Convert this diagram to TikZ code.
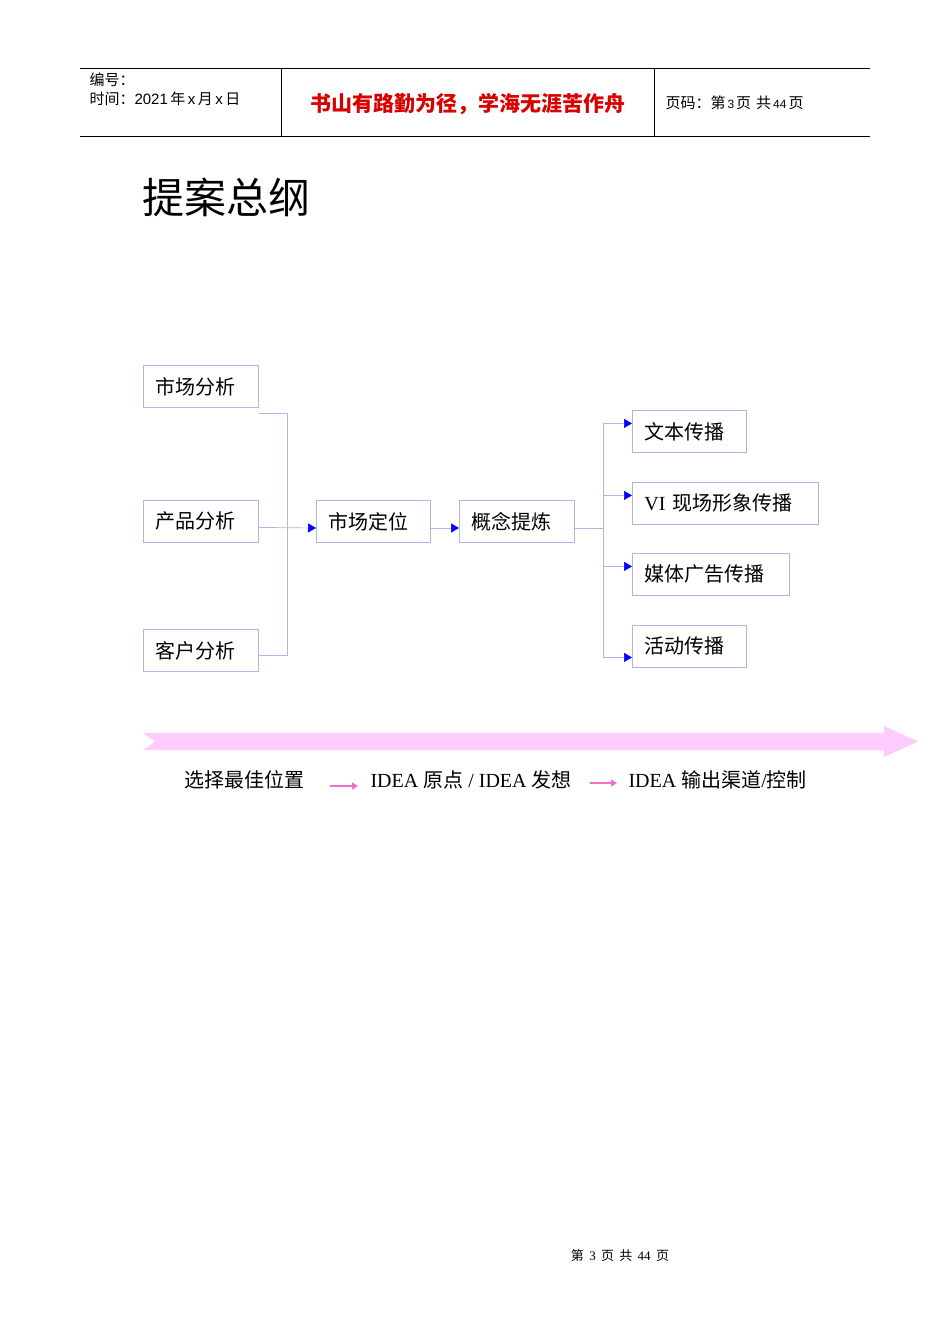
\documentclass[tikz,border=0pt]{standalone}
\usepackage{fontspec}
\setmainfont{Liberation Serif}
\newfontfamily\cjk{Noto Sans CJK SC}
\newfontfamily\hsans{Liberation Sans}
\usetikzlibrary{arrows.meta}
\definecolor{boxline}{RGB}{180,180,225}
\definecolor{pinkf}{RGB}{253,204,253}
\definecolor{pinka}{RGB}{240,110,200}
\begin{document}
\begin{tikzpicture}[x=1pt,y=-1pt,
  bx/.style={draw=boxline,line width=0.8pt,inner xsep=12pt,inner ysep=0pt,anchor=north west,font=\fontsize{20}{20}\selectfont\cjk,align=left,minimum height=42pt},
  cn/.style={draw=boxline,line width=0.7pt},
  ar/.style={cn,-{Triangle[length=8pt,width=9pt,fill=blue,color=blue]}},
  par/.style={draw=pinka,line width=2.2pt,-{Triangle[length=6pt,width=7pt]}}]
\useasboundingbox (0,0) rectangle (950,1344);
\fill[white] (0,0) rectangle (950,1344);
% header
\draw[line width=0.8pt] (80,68) -- (870,68);
\draw[line width=0.8pt] (80,136) -- (870,136);
\draw[line width=0.8pt] (281,68) -- (281,136);
\draw[line width=0.8pt] (654,68) -- (654,136);
\node[anchor=west,font=\fontsize{15}{15}\selectfont\cjk] (h1) at (86,80) {编号：};
\node[anchor=west,font=\fontsize{15}{15}\selectfont] (h2) at (86,99) {{\cjk 时间：}{\hsans 2021\,}{\cjk 年}{\hsans\,x\,}{\cjk 月}{\hsans\,x\,}{\cjk 日}};
\node[anchor=center,font=\fontsize{21}{21}\selectfont\cjk\bfseries,text=red!85!black] (motto) at (468,104) {书山有路勤为径，学海无涯苦作舟};
\node[anchor=west,font=\fontsize{15}{15}\selectfont] (h3) at (662,103) {{\cjk 页码：第}{\hsans\fontsize{12}{12}\selectfont\,3\,}{\cjk 页\,\,共}{\hsans\fontsize{12}{12}\selectfont\,44\,}{\cjk 页}};
% title
\node[anchor=west,font=\fontsize{42}{42}\selectfont\cjk] (title) at (139,197) {提案总纲};
% boxes
\node[bx,text width=91pt] (a1) at (143,365) {市场分析};
\node[bx,text width=91pt] (a2) at (143,500) {产品分析};
\node[bx,text width=91pt] (a3) at (143,629) {客户分析};
\node[bx,text width=90pt] (b) at (316,500) {市场定位};
\node[bx,text width=91pt] (c) at (459,500) {概念提炼};
\node[bx,text width=90pt] (d1) at (632,410) {文本传播};
\node[bx,text width=162pt] (d2) at (632,482) {{\rmfamily VI} 现场形象传播};
\node[bx,text width=133pt] (d3) at (632,553) {媒体广告传播};
\node[bx,text width=90pt] (d4) at (632,625) {活动传播};
% connectors
\coordinate (j1) at (287,528);
\coordinate (j2) at (603,528);
\draw[cn] (a1.south east) ++(0,6) -| (j1);
\draw[cn] (a3.north east) ++(0,26) -| (j1);
\draw[ar] (a2.east) ++(0,6) -- (b.west |- j1);
\draw[ar] (b.east |- j1) -- (c.west |- j1);
\draw[cn] (c.east |- j1) -- (j2);
\draw[ar] (j2) |- ([yshift=8pt]d1.west);
\draw[ar] (j2) |- ([yshift=8pt]d2.west);
\draw[ar] (j2) |- ([yshift=8pt]d3.west);
\draw[ar] (j2) |- ([yshift=-11pt]d4.west);
% pink band arrow
\fill[pinkf] (143,733) -- (884,733) -- (884,726) -- (918,741.5) -- (884,757) -- (884,750) -- (143,750) -- (155,741.5) -- cycle;
% bottom texts
\node[anchor=west,font=\fontsize{20}{20}\selectfont\cjk] (t1) at (181,780) {选择最佳位置};
\node[anchor=west,font=\fontsize{20}{20}\selectfont] (t2) at (367,780) {IDEA {\cjk 原点} / IDEA {\cjk 发想}};
\node[anchor=west,font=\fontsize{20}{20}\selectfont] (t3) at (625,780) {IDEA {\cjk 输出渠道}/{\cjk 控制}};
\coordinate (p1) at (330,786); \coordinate (p2) at (358,786);
\coordinate (p3) at (590,783); \coordinate (p4) at (617,783);
\draw[par] (p1) -- (p2);
\draw[par] (p3) -- (p4);
% footer
\node[font=\fontsize{13}{13}\selectfont] (foot) at (620,1256) {{\cjk 第}\, 3\, {\cjk 页\, 共}\, 44\, {\cjk 页}};
\end{tikzpicture}
\end{document}
